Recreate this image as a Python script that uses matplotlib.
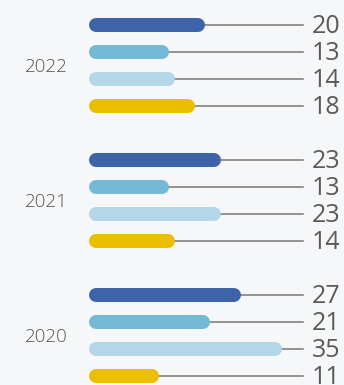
#!/usr/bin/env python3
"""Grouped rounded horizontal bars per year with leader lines to value labels."""
import matplotlib
matplotlib.use("Agg")
import matplotlib.pyplot as plt

years = ["2022", "2021", "2020"]
series_a = [20, 23, 27]   # dark blue
series_b = [13, 13, 21]   # mid blue
series_c = [14, 23, 35]   # light blue
series_d = [18, 14, 11]   # yellow

colors = ["#3d64a8", "#74bad6", "#b3d7e8", "#ecbe00"]
bg = "#f6f7f9"

DPI = 100
W, H = 344, 385
PX_PER_UNIT = 5.11
X0_PX = 96          # pixel position of value 0
SLOT_PX = 27
Y0_PX = 25
LEADER_END = 40.5
LABEL_X = 42.3
YEAR_X = -5.5

fig = plt.figure(figsize=(W / DPI, H / DPI), dpi=DPI, facecolor=bg)
ax = fig.add_axes([0, 0, 1, 1])
ax.set_facecolor(bg)
ax.set_xlim(-X0_PX / PX_PER_UNIT, (W - X0_PX) / PX_PER_UNIT)
ax.set_ylim((H - Y0_PX) / SLOT_PX, -Y0_PX / SLOT_PX)
ax.axis("off")

bar_lw = 14 * 72 / DPI
groups = list(zip(series_a, series_b, series_c, series_d))
for g, (year, vals) in enumerate(zip(years, groups)):
    base = g * 5
    for i, (v, c) in enumerate(zip(vals, colors)):
        y = base + i
        ax.plot([v, LEADER_END], [y, y], color="#777777", lw=1.1, zorder=1)
        ax.plot([0, v], [y, y], color=c, lw=bar_lw,
                solid_capstyle="round", zorder=2)
        ax.text(LABEL_X, y + 0.04, str(v), ha="left", va="center",
                fontsize=18, family="Open Sans", color="#5a5a5a")
    ax.text(YEAR_X, base + 1.55, year, ha="right", va="center",
            fontsize=13.5, family="Open Sans", fontweight="light",
            color="#555555")

fig.savefig("out.png", dpi=DPI, facecolor=bg)
